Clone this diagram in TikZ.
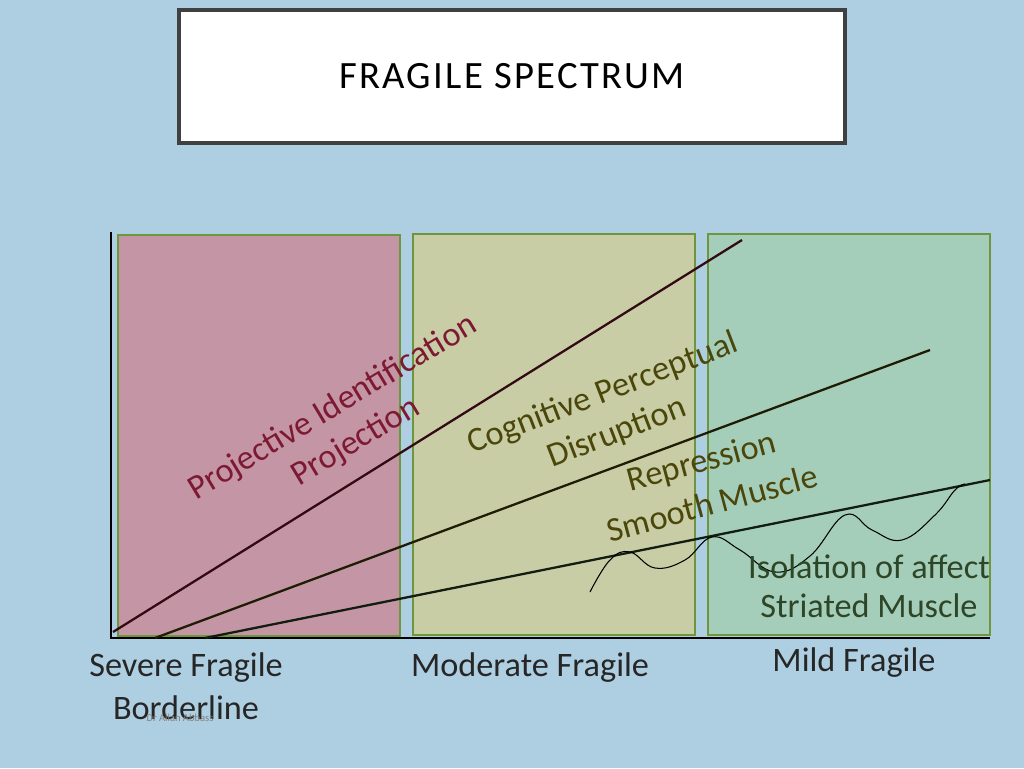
\documentclass[tikz,border=0pt]{standalone}
\usepackage{fontspec}
\setmainfont{Carlito}
\definecolor{bgblue}{RGB}{174,207,225}
\definecolor{zonered}{RGB}{196,150,165}
\definecolor{zoneyel}{RGB}{200,205,165}
\definecolor{zonegrn}{RGB}{165,206,186}
\definecolor{zoneedge}{RGB}{110,150,60}
\definecolor{txtred}{RGB}{125,25,50}
\definecolor{txtolive}{RGB}{75,70,10}
\definecolor{txtgrn}{RGB}{45,70,40}
\begin{document}
\begin{tikzpicture}[
  x=0.02cm, y=-0.02cm,
  zone/.style = {draw=zoneedge, line width=0.6pt},
  trend/.style = {line width=1.3pt},
  lbl/.style = {font=\fontsize{19.5}{23}\selectfont, inner sep=0pt},
  axis/.style = {line width=1.6pt}
]
  \fill[bgblue] (0,0) rectangle (1024,768);
  \useasboundingbox (0,0) rectangle (1024,768);
  % title
  \node[draw=black!75, fill=white, line width=1.8pt, minimum width=666*0.02cm, minimum height=133*0.02cm,
        font=\fontsize{22}{26}\selectfont] (title) at (512,76.5) {\addfontfeature{LetterSpace=6}FRAGILE SPECTRUM};
  % zones
  \draw[zone, fill=zonered] (118,235) rectangle (400,636);
  \draw[zone, fill=zoneyel] (413,234) rectangle (695,635);
  \draw[zone, fill=zonegrn] (708,234) rectangle (990,635);
  % axes
  \coordinate (origin) at (111,638);
  \coordinate (ytop) at (111,232);
  \coordinate (xend) at (990,638);
  \draw[axis] (ytop) -- (origin) -- (xend);
  % trend lines
  \coordinate (a0) at (113,632); \coordinate (a1) at (742,240);
  \coordinate (b0) at (155,638); \coordinate (b1) at (930,350);
  \coordinate (c0) at (205,638); \coordinate (c1) at (990,480);
  \draw[trend, color=black!60!txtred] (a0) -- (a1);
  \draw[trend, color=black!60!txtolive] (b0) -- (b1);
  \draw[trend, color=black!60!txtgrn] (c0) -- (c1);
  % wave
  \draw[line width=0.6pt] plot[smooth, tension=0.7] coordinates {(590,592) (610,560) (630,552) (655,568) (685,560) (712,537) (740,550) (775,572) (810,556) (845,515) (872,530) (902,540) (935,515) (955,490) (965,484)};
  % zone labels
  \node[lbl, color=txtred, rotate=31] (pid) at (333,408) {Projective Identification};
  \node[lbl, color=txtred, rotate=31] (proj) at (356,442) {Projection};
  \node[lbl, color=txtolive, rotate=21] (cpd) at (603,394) {Cognitive Perceptual};
  \node[lbl, color=txtolive, rotate=21] (dis) at (617,433) {Disruption};
  \node[lbl, color=txtolive, rotate=15] (rep) at (702,463) {Repression};
  \node[lbl, color=txtolive, rotate=15] (smm) at (712,503) {Smooth Muscle};
  \node[lbl, color=txtgrn] (iso) at (869,567) {Isolation of affect};
  \node[lbl, color=txtgrn] (stm) at (869,606) {Striated Muscle};
  % axis labels
  \node[lbl, color=black!85] (sev) at (186,668) {Severe Fragile};
  \node[lbl, color=black!85] (bord) at (186,708) {Borderline};
  \node[lbl, color=black!85] (mod) at (530,668) {Moderate Fragile};
  \node[lbl, color=black!85] (mild) at (854,663) {Mild Fragile};
  \node[font=\fontsize{6}{7}\selectfont, color=black!50, inner sep=0pt] (auth) at (180,718) {Dr Allan Abbass};
\end{tikzpicture}
\end{document}
